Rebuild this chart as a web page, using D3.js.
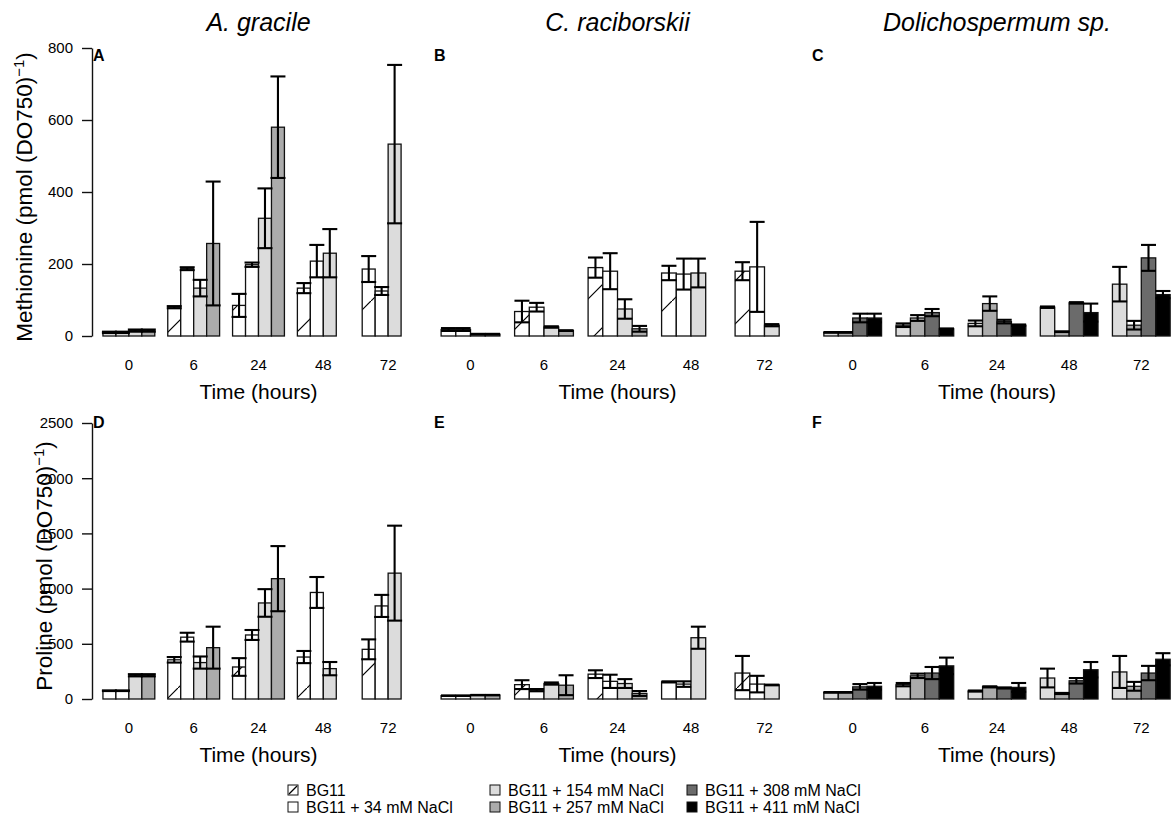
<!DOCTYPE html>
<html>
<head>
<meta charset="utf-8">
<title>Methionine and proline</title>
<script src="https://d3js.org/d3.v7.min.js"></script>
<style>
  body { margin: 0; background: #fff; }
  text { font-family: "Liberation Sans", Arial, Helvetica, sans-serif; fill: #000; }
</style>
</head>
<body>
<div id="chart"></div>
<script>
// ---- data ----
var times = ["0", "6", "24", "48", "72"];
var conditions = ["BG11", "BG11 + 34 mM NaCl", "BG11 + 154 mM NaCl",
                  "BG11 + 257 mM NaCl", "BG11 + 308 mM NaCl", "BG11 + 411 mM NaCl"];
var species = ["A. gracile", "C. raciborskii", "Dolichospermum sp."];
var metTicks = [0, 200, 400, 600, 800];
var proTicks = [0, 500, 1000, 1500, 2000, 2500];

// which conditions were grown for each species (index into conditions)
var condAgr = [0, 1, 2, 3];
var condCra = [0, 1, 2, 3];
var condDol = [2, 3, 4, 5];

// methionine, rows = conditions of the species, cols = times
var metAgrMean = [[10, 80, 85, 133, 186], [10, 187, 198, 208, 125], [15, 133, 327, 230, 533], [15, 257, 580, null, null]];
var metAgrSe   = [[2, 3, 32, 14, 36], [2, 4, 6, 45, 11], [3, 23, 83, 67, 220], [3, 172, 141, null, null]];
var metCraMean = [[18, 68, 190, 175, 180], [18, 80, 180, 172, 192], [5, 25, 75, 175, 30], [5, 15, 20, null, null]];
var metCraSe   = [[4, 30, 28, 20, 25], [4, 12, 50, 43, 125], [1, 2, 27, 40, 3], [1, 1, 8, null, null]];
var metDolMean = [[10, 30, 35, 80, 144], [10, 50, 90, 12, 30], [50, 65, 40, 92, 217], [50, 20, 30, 65, 115]];
var metDolSe   = [[1, 5, 8, 2, 48], [1, 8, 20, 1, 12], [12, 10, 5, 2, 36], [12, 1, 2, 25, 10]];

// proline
var proAgrMean = [[75, 355, 290, 380, 450], [75, 560, 580, 965, 843], [215, 330, 870, 275, 1140], [215, 465, 1090, null, null]];
var proAgrSe   = [[3, 25, 80, 55, 90], [3, 40, 45, 140, 100], [10, 55, 125, 60, 430], [10, 190, 295, null, null]];
var proCraMean = [[30, 130, 225, 155, 235], [30, 80, 160, 135, 135], [35, 140, 140, 555, 127], [35, 125, 50, null, null]];
var proCraSe   = [[2, 40, 35, 5, 155], [2, 10, 60, 25, 75], [2, 10, 40, 100, 3], [2, 90, 22, null, null]];
var proDolMean = [[60, 130, 72, 190, 245], [60, 210, 110, 50, 115], [110, 235, 100, 165, 235], [115, 300, 105, 265, 360]];
var proDolSe   = [[3, 15, 5, 85, 145], [3, 20, 5, 5, 40], [25, 55, 5, 25, 65], [30, 75, 40, 70, 55]];

// ---- styles / layout ----
var condFill = ["#ffffff", "#ffffff", "#dcdcdc", "#ababab", "#6b6b6b", "#000000"];
var width = 1172, height = 821;
var cols = [{left: 90.5, right: 426.5, letterX: 93},
            {left: 427, right: 808, letterX: 434},
            {left: 810, right: 1184, letterX: 812}];
var rows = [{top: 48, base: 336, max: 800, ticks: metTicks, hatch: 27, letterY: 61},
            {top: 423, base: 699, max: 2500, ticks: proTicks, hatch: 6, letterY: 428}];

var panels = [
  {row: 0, col: 0, letter: "A", conds: condAgr, mean: metAgrMean, se: metAgrSe},
  {row: 0, col: 1, letter: "B", conds: condCra, mean: metCraMean, se: metCraSe},
  {row: 0, col: 2, letter: "C", conds: condDol, mean: metDolMean, se: metDolSe},
  {row: 1, col: 0, letter: "D", conds: condAgr, mean: proAgrMean, se: proAgrSe},
  {row: 1, col: 1, letter: "E", conds: condCra, mean: proCraMean, se: proCraSe},
  {row: 1, col: 2, letter: "F", conds: condDol, mean: proDolMean, se: proDolSe}
];

var svg = d3.select("#chart").append("svg")
    .attr("width", width)
    .attr("height", height)
    .style("display", "block");

svg.append("rect").attr("width", width).attr("height", height).attr("fill", "#fff");

// hatch patterns for BG11 (one per row so the line phase matches)
var defs = svg.append("defs");
var hs = 43;
rows.forEach(function (r, i) {
    var pat = defs.append("pattern")
        .attr("id", "hatch" + i)
        .attr("patternUnits", "userSpaceOnUse")
        .attr("x", r.hatch)
        .attr("y", 0)
        .attr("width", hs)
        .attr("height", hs);
    pat.append("rect").attr("width", hs).attr("height", hs).attr("fill", "#fff");
    pat.append("line")
        .attr("x1", -1).attr("y1", hs + 1)
        .attr("x2", hs + 1).attr("y2", -1)
        .attr("stroke", "#000").attr("stroke-width", 1.2);
});

function fillFor(c, row) {
    return c === 0 ? "url(#hatch" + row + ")" : condFill[c];
}

panels.forEach(function (p) {
    var r = rows[p.row], cl = cols[p.col];
    var g = svg.append("g");

    var x = d3.scaleBand().domain(times).range([cl.left, cl.right])
        .paddingInner(0.2).paddingOuter(0.192);
    var xs = d3.scaleBand().domain(d3.range(p.conds.length)).range([0, x.bandwidth()]);
    var y = d3.scaleLinear().domain([0, r.max]).range([r.base, r.top]);

    var data = [];
    p.conds.forEach(function (c, j) {
        times.forEach(function (t, i) {
            var m = p.mean[j][i];
            if (m == null) return;
            data.push({t: t, j: j, c: c, m: m, s: p.se[j][i]});
        });
    });

    // bars
    g.selectAll(".bar").data(data).enter().append("rect")
        .attr("class", "bar")
        .attr("x", function (d) { return x(d.t) + xs(d.j); })
        .attr("y", function (d) { return y(d.m); })
        .attr("width", xs.bandwidth())
        .attr("height", function (d) { return y(0) - y(d.m); })
        .attr("fill", function (d) { return fillFor(d.c, p.row); })
        .attr("stroke", "#111")
        .attr("stroke-width", 1.3);

    // error bars
    var cap = 7.5;
    var eb = g.selectAll(".err").data(data).enter().append("g")
        .attr("class", "err")
        .attr("transform", function (d) { return "translate(" + (x(d.t) + xs(d.j) + xs.bandwidth() / 2) + ",0)"; })
        .attr("stroke", "#000")
        .attr("stroke-width", 2.1);
    eb.append("line")
        .attr("y1", function (d) { return y(Math.max(0, d.m - d.s)); })
        .attr("y2", function (d) { return y(d.m + d.s); });
    eb.append("line")
        .attr("x1", -cap).attr("x2", cap)
        .attr("y1", function (d) { return y(d.m + d.s); })
        .attr("y2", function (d) { return y(d.m + d.s); });
    eb.append("line")
        .attr("x1", -cap).attr("x2", cap)
        .attr("y1", function (d) { return y(Math.max(0, d.m - d.s)); })
        .attr("y2", function (d) { return y(Math.max(0, d.m - d.s)); });

    // x labels (group names)
    var xa = g.append("g")
        .attr("transform", "translate(0," + r.base + ")")
        .call(d3.axisBottom(x).tickSize(0).tickPadding(23));
    xa.select(".domain").remove();
    xa.selectAll("text").style("font-size", "15px")
        .style("font-family", "'Liberation Sans', Arial, sans-serif");

    g.append("text")
        .attr("x", x("24") + x.bandwidth() / 2)
        .attr("y", r.base + 63)
        .attr("text-anchor", "middle")
        .style("font-size", "21px")
        .text("Time (hours)");

    // y axis only on the left column
    if (p.col === 0) {
        var ya = g.append("g")
            .attr("transform", "translate(" + 92 + ",0)")
            .call(d3.axisLeft(y).tickValues(r.ticks).tickFormat(d3.format("d"))
                .tickSize(10).tickSizeOuter(0).tickPadding(9));
        ya.select(".domain").attr("stroke", "#111").attr("stroke-width", 1.4);
        ya.selectAll(".tick line").attr("stroke", "#111").attr("stroke-width", 1.4);
        ya.selectAll("text").style("font-size", "15px")
            .style("font-family", "'Liberation Sans', Arial, sans-serif");
    }

    // panel letter
    g.append("text")
        .attr("x", cl.letterX)
        .attr("y", r.letterY)
        .style("font-size", "16px")
        .style("font-weight", "bold")
        .text(p.letter);

    // species title above the top row
    if (p.row === 0) {
        g.append("text")
            .attr("x", x("24") + x.bandwidth() / 2)
            .attr("y", 31)
            .attr("text-anchor", "middle")
            .style("font-size", "25px")
            .style("font-style", "italic")
            .text(species[p.col]);
    }
});

// y axis titles
function yTitle(name, cx, cy) {
    var t = svg.append("text")
        .attr("transform", "translate(" + cx + "," + cy + ") rotate(-90)")
        .attr("text-anchor", "middle")
        .style("font-size", "22.5px");
    t.append("tspan").text(name + " (pmol (DO750)");
    t.append("tspan").attr("dy", -8).style("font-size", "15px").text("\u22121");
    t.append("tspan").attr("dy", 8).text(")");
}
yTitle("Methionine", 32, 197);
yTitle("Proline", 52, 566);

// legend
var legX = [288, 490, 687], legY = [790, 807];
var leg = svg.append("g").selectAll("g").data(conditions).enter().append("g")
    .attr("transform", function (d, i) {
        return "translate(" + legX[Math.floor(i / 2)] + "," + legY[i % 2] + ")";
    });
leg.append("rect")
    .attr("x", 0).attr("y", -5).attr("width", 10).attr("height", 10)
    .attr("fill", function (d, i) { return condFill[i]; })
    .attr("stroke", "#111").attr("stroke-width", 1);
leg.filter(function (d, i) { return i === 0; }).append("line")
    .attr("x1", 1).attr("y1", 4).attr("x2", 9).attr("y2", -4)
    .attr("stroke", "#000").attr("stroke-width", 1.2);
leg.append("text")
    .attr("x", 18).attr("y", 5.5)
    .style("font-size", "16px")
    .text(function (d) { return d; });
</script>
</body>
</html>
